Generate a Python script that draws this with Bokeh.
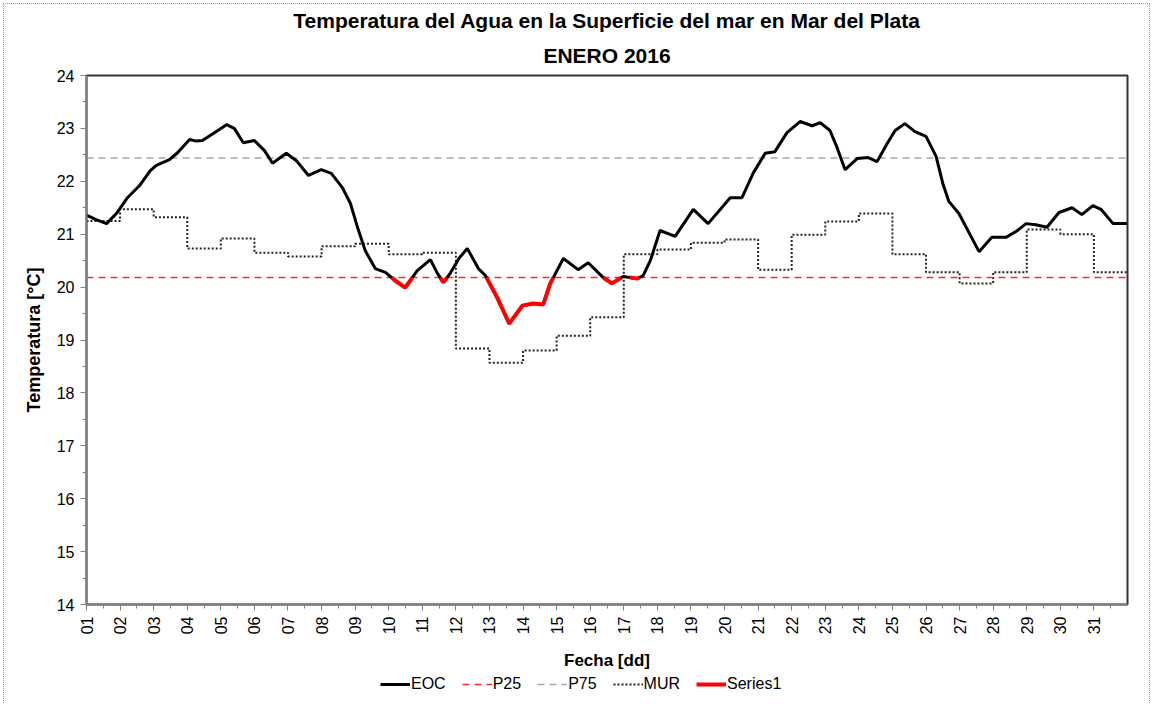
import math
from bokeh.plotting import figure
from bokeh.layouts import column
from bokeh.models import FixedTicker, Legend, LegendItem, Range1d, Title
from bokeh.embed import file_html
from bokeh.resources import INLINE

# ---- data ----
eoc_day = [1.0, 1.3, 1.6, 1.89, 2.22, 2.58, 2.9, 3.08, 3.47, 3.71, 4.07, 4.27, 4.45, 4.81,
           5.17, 5.4, 5.67, 6.0, 6.3, 6.54, 6.95, 7.25, 7.61, 7.99, 8.29, 8.62, 8.86, 9.07,
           9.3, 9.6, 9.9, 10.2, 10.49, 10.85, 11.24, 11.45, 11.63, 11.83, 12.1, 12.34, 12.67,
           12.88, 13.23, 13.59, 13.98, 14.3, 14.6, 14.81, 15.2, 15.64, 15.94, 16.39, 16.65,
           16.98, 17.4, 17.58, 17.79, 18.08, 18.53, 19.07, 19.51, 20.17, 20.52, 20.85, 21.21,
           21.5, 21.86, 22.25, 22.61, 22.85, 23.14, 23.35, 23.59, 23.95, 24.27, 24.54, 24.84,
           25.08, 25.37, 25.67, 26.0, 26.3, 26.5, 26.68, 26.98, 27.28, 27.58, 27.96, 28.38,
           28.68, 28.98, 29.27, 29.6, 29.96, 30.35, 30.64, 30.97, 31.21, 31.57, 31.98]
eoc_temp = [21.36, 21.27, 21.2, 21.39, 21.69, 21.92, 22.2, 22.3, 22.41, 22.54, 22.79, 22.76,
            22.77, 22.92, 23.07, 23.0, 22.73, 22.77, 22.58, 22.34, 22.53, 22.39, 22.11, 22.22,
            22.15, 21.88, 21.58, 21.13, 20.69, 20.35, 20.28, 20.12, 19.99, 20.31, 20.52, 20.26,
            20.09, 20.26, 20.55, 20.73, 20.35, 20.22, 19.8, 19.31, 19.65, 19.69, 19.67, 20.07,
            20.54, 20.33, 20.46, 20.18, 20.07, 20.2, 20.16, 20.22, 20.5, 21.07, 20.96, 21.47,
            21.2, 21.69, 21.69, 22.15, 22.53, 22.56, 22.92, 23.13, 23.05, 23.11, 22.96, 22.64,
            22.22, 22.43, 22.45, 22.37, 22.71, 22.96, 23.09, 22.94, 22.85, 22.47, 21.96, 21.62,
            21.39, 21.03, 20.67, 20.94, 20.94, 21.05, 21.2, 21.18, 21.13, 21.41, 21.5, 21.37,
            21.54, 21.47, 21.2, 21.2]

mur_day = list(range(1, 32))
mur_temp = [21.25, 21.47, 21.32, 20.73, 20.92, 20.65, 20.58, 20.77, 20.82, 20.62, 20.65,
            18.84, 18.57, 18.8, 19.08, 19.43, 20.62, 20.71, 20.84, 20.9, 20.33, 20.99, 21.24,
            21.39, 20.62, 20.28, 20.07, 20.28, 21.09, 21.0, 20.28]

p25 = 20.18
p75 = 22.44

x_ticks = list(range(1, 32))
x_labels = ["%02d" % d for d in x_ticks]
y_ticks = list(range(14, 25))
series_names = ["EOC", "P25", "P75", "MUR", "Series1"]

FONT = "Liberation Sans"

# ---- derived: Series1 = EOC portions below P25 ----
s1x, s1y = [], []
for i in range(len(eoc_day) - 1):
    x0, y0, x1, y1 = eoc_day[i], eoc_temp[i], eoc_day[i + 1], eoc_temp[i + 1]
    b0, b1 = y0 <= p25, y1 <= p25
    if b0 and b1:
        if not s1x or math.isnan(s1x[-1]):
            s1x.append(x0); s1y.append(y0)
        s1x.append(x1); s1y.append(y1)
    elif b0 != b1:
        t = (p25 - y0) / (y1 - y0)
        xc = x0 + t * (x1 - x0)
        if b0:
            if not s1x or math.isnan(s1x[-1]):
                s1x.append(x0); s1y.append(y0)
            s1x.append(xc); s1y.append(p25)
            s1x.append(float("nan")); s1y.append(float("nan"))
        else:
            s1x.append(xc); s1y.append(p25)
            s1x.append(x1); s1y.append(y1)

mx = mur_day + [32]
my = mur_temp + [mur_temp[-1]]

STY = {
    "EOC": dict(line_color="black", line_width=3),
    "P25": dict(line_color="#ff2a2a", line_width=1.5, line_dash="7 5"),
    "P75": dict(line_color="#a6a6a6", line_width=1.5, line_dash="7 5"),
    "MUR": dict(line_color="#222222", line_width=2, line_dash="2 2"),
    "Series1": dict(line_color="#ff0000", line_width=4),
}

p = figure(width=1145, height=670, output_backend="svg", toolbar_location=None,
           x_range=Range1d(1, 32), y_range=Range1d(14, 24),
           min_border_left=82, min_border_right=22, min_border_top=71, min_border_bottom=70)

p.title.text = "Temperatura del Agua en la Superficie del mar en Mar del Plata"
p.title.align = "center"
p.title.text_font = FONT
p.title.text_font_style = "bold"
p.title.text_font_size = "21px"
p.title.text_color = "black"
p.title.standoff = 2
p.add_layout(Title(text="ENERO 2016", align="center", text_font=FONT, text_font_style="bold",
                   text_font_size="21px", text_color="black", standoff=18), "above")

p.grid.visible = False
p.outline_line_color = "#333333"
p.outline_line_width = 2

p.step(mx, my, mode="after", **STY["MUR"])
p.line([1, 32], [p75, p75], **STY["P75"])
p.line([1, 32], [p25, p25], **STY["P25"])
p.line(eoc_day, eoc_temp, **STY["EOC"])
p.line(s1x, s1y, **STY["Series1"])

# axes
xa = p.xaxis[0]
xa.ticker = FixedTicker(ticks=x_ticks, minor_ticks=[d + 0.5 for d in x_ticks])
xa.major_label_overrides = {d: l for d, l in zip(x_ticks, x_labels)}
xa.major_label_orientation = math.pi / 2
xa.axis_label = "Fecha [dd]"
ya = p.yaxis[0]
ya.ticker = FixedTicker(ticks=y_ticks, minor_ticks=[v + 0.5 for v in range(14, 24)])
ya.axis_label = "Temperatura [°C]"
for ax in (xa, ya):
    ax.axis_line_color = "#808080"
    ax.axis_line_width = 2
    ax.major_tick_line_color = "#808080"
    ax.minor_tick_line_color = "#808080"
    ax.major_tick_in = 0
    ax.major_tick_out = 6
    ax.minor_tick_in = 0
    ax.minor_tick_out = 4
    ax.major_label_text_font = FONT
    ax.major_label_text_font_size = "16px"
    ax.major_label_text_color = "black"
    ax.axis_label_text_font = FONT
    ax.axis_label_text_font_style = "bold"
    ax.axis_label_text_color = "black"
xa.axis_label_text_font_size = "17px"
ya.axis_label_text_font_size = "18px"
xa.major_label_standoff = 6
ya.major_label_standoff = 6
xa.axis_label_standoff = 14
ya.axis_label_standoff = 10

# ---- legend strip ----
pl = figure(width=1145, height=30, output_backend="svg", toolbar_location=None,
            x_axis_type=None, y_axis_type=None, x_range=Range1d(0, 1), y_range=Range1d(0, 1),
            min_border_left=24, min_border_right=0, min_border_top=0, min_border_bottom=0)
pl.outline_line_color = None
pl.grid.visible = False
items = []
for name in series_names:
    r = pl.line([-10, -9], [-10, -10], **STY[name])
    items.append(LegendItem(label=name, renderers=[r]))
legend = Legend(items=items, orientation="horizontal", location=(294, 11))
legend.border_line_color = None
legend.background_fill_alpha = 0
legend.label_text_font = FONT
legend.label_text_font_size = "16px"
legend.label_text_color = "black"
legend.glyph_width = 30
legend.glyph_height = 16
legend.label_standoff = 1
legend.spacing = 16
legend.padding = 0
legend.margin = 2
pl.add_layout(legend)

layout = column(p, pl, spacing=0)
layout.styles = {"border": "1px dotted #9a9a9a", "margin-left": "3px", "margin-top": "3px"}

open("out.html", "w").write(file_html(layout, INLINE))
